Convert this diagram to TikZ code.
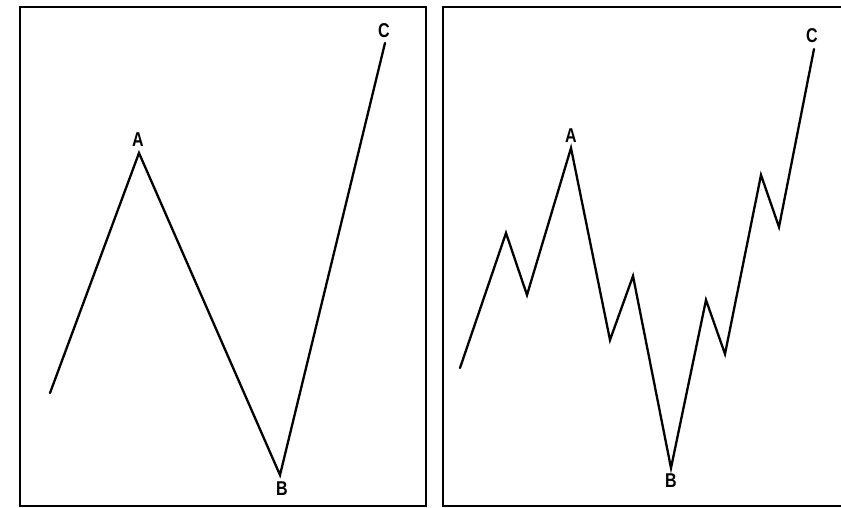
\documentclass[tikz,border=0pt]{standalone}
\usepackage{fontspec}
\setsansfont{Liberation Sans}
\begin{document}
\begin{tikzpicture}[x=1pt,y=-1pt,
  frame/.style={line width=1.6pt, line join=miter},
  wave/.style={line width=2.3pt, line join=miter, line cap=round},
  lbl/.style={font=\sffamily\bfseries\fontsize{20}{20}\selectfont, xscale=0.8, inner sep=0pt}]
\useasboundingbox (0,0) rectangle (841,508);
% frames
\draw[frame] (20,7) rectangle (426,506);
\draw[frame] (841,7) -- (443,7) -- (443,506) -- (841,506);
% left panel
\coordinate (L0) at (50,393);
\coordinate (LA) at (139,153);
\coordinate (LB) at (280,475);
\coordinate (LC) at (385,43);
\draw[wave] (L0) -- (LA) -- (LB) -- (LC);
\node[lbl] (lA) at (138,140) {A};
\node[lbl] (lB) at (282,489) {B};
\node[lbl] (lC) at (384,31) {C};
% right panel
\coordinate (R0) at (460,368);
\coordinate (R1) at (506,233);
\coordinate (R2) at (527,295);
\coordinate (RA) at (571,148);
\coordinate (R3) at (610,340);
\coordinate (R4) at (633,276);
\coordinate (RB) at (671,468);
\coordinate (R5) at (706,300);
\coordinate (R6) at (725,354);
\coordinate (R7) at (761,175);
\coordinate (R8) at (779,227);
\coordinate (RC) at (814,49);
\draw[wave] (R0) -- (R1) -- (R2) -- (RA) -- (R3) -- (R4) -- (RB) -- (R5) -- (R6) -- (R7) -- (R8) -- (RC);
\node[lbl] (rA) at (571,136) {A};
\node[lbl] (rB) at (671,481) {B};
\node[lbl] (rC) at (812,36) {C};
\end{tikzpicture}
\end{document}
